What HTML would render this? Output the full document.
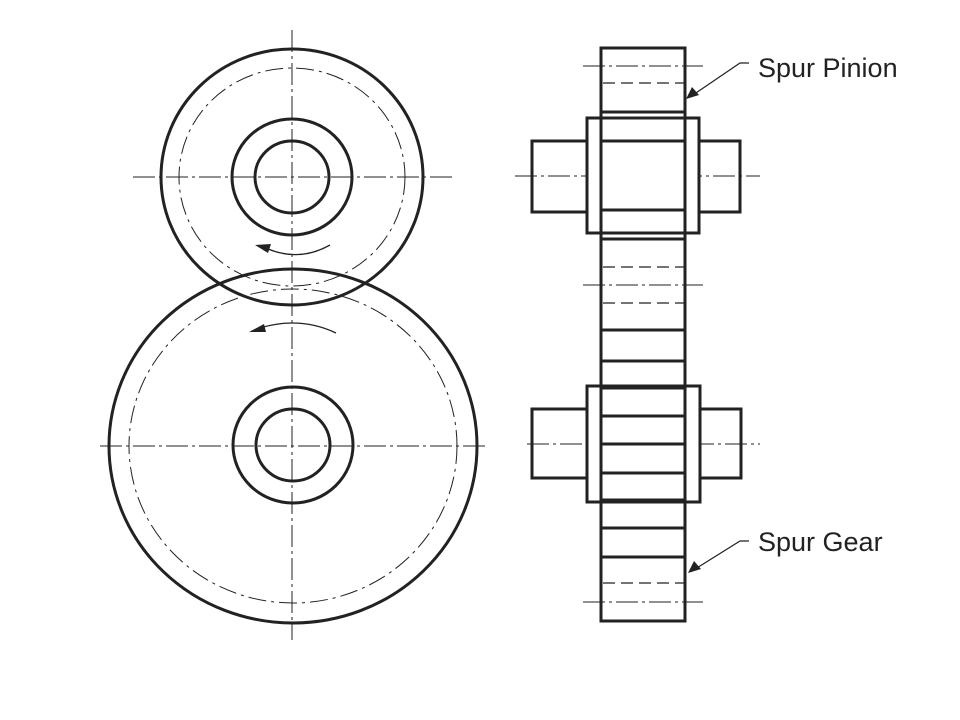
<!DOCTYPE html>
<html><head><meta charset="utf-8"><style>html,body{margin:0;padding:0;background:#fff}svg{display:block}</style></head>
<body>
<svg width="960" height="720" viewBox="0 0 960 720" xmlns="http://www.w3.org/2000/svg">
<g fill="none" stroke="#222">
<g stroke-width="1" stroke-dasharray="22,4,3,4">
<line x1="292" y1="30" x2="292" y2="640"/>
<line x1="133" y1="177" x2="452" y2="177"/>
<line x1="100" y1="446" x2="487" y2="446"/>
</g>
<g stroke-width="1" stroke-dasharray="18,5,3,5">
<ellipse cx="292" cy="177" rx="113" ry="109"/>
<ellipse cx="293" cy="446" rx="164" ry="157"/>
</g>
<g stroke-width="3">
<ellipse cx="292" cy="177" rx="131" ry="128"/>
<ellipse cx="293" cy="446" rx="184" ry="177"/>
<ellipse cx="292" cy="177" rx="60" ry="58"/>
<ellipse cx="292" cy="177" rx="37" ry="36"/>
<ellipse cx="293" cy="445" rx="60" ry="58"/>
<ellipse cx="293" cy="445" rx="37" ry="36"/>
</g>
<path d="M330 245 Q300 262 268 249" stroke-width="1.3"/>
<path d="M336 333 Q300 316 260 328" stroke-width="1.3"/>
</g>
<g fill="#222">
<polygon points="255,245 271,244 268,253"/>
<polygon points="249,332 264,324 266,332"/>
</g>
<g fill="none" stroke="#222">
<g stroke-width="1" stroke-dasharray="22,4,3,4">
<line x1="583" y1="66" x2="703" y2="66"/>
<line x1="515" y1="176" x2="760" y2="176"/>
<line x1="583" y1="285" x2="703" y2="285"/>
<line x1="527" y1="444" x2="760" y2="444"/>
<line x1="583" y1="602" x2="703" y2="602"/>
</g>
<g stroke-width="1.3" stroke-dasharray="12,6">
<line x1="603" y1="83" x2="684" y2="83"/>
<line x1="603" y1="267" x2="684" y2="267"/>
<line x1="603" y1="303" x2="684" y2="303"/>
<line x1="603" y1="583" x2="684" y2="583"/>
</g>
<g stroke-width="3">
<rect x="587" y="118" width="112" height="115" fill="#fff"/>
<rect x="532" y="141" width="55" height="71"/>
<rect x="699" y="141" width="41" height="71"/>
<rect x="587" y="386" width="113" height="116" fill="#fff"/>
<rect x="532" y="409" width="55" height="69"/>
<rect x="700" y="409" width="41" height="69"/>
<rect x="601" y="48" width="84" height="573"/>
<path d="M601 112H685M601 141H685M601 210H685M601 239H685M601 330H685M601 361H685M601 388H685M601 416H685M601 444H685M601 473H685M601 500H685M601 528H685M601 557H685"/>
</g>
<path d="M749 63H740L690 97M749 541H740L692 571" stroke-width="1.2"/>
</g>
<g fill="#222">
<polygon points="686,99 692,87 699,95"/>
<polygon points="688,573 694,561 701,569"/>
</g>
<g font-family="Liberation Sans, sans-serif" font-size="27" fill="#222">
<text x="758" y="77">Spur Pinion</text>
<text x="758" y="551">Spur Gear</text>
</g>
</svg>
</body></html>
